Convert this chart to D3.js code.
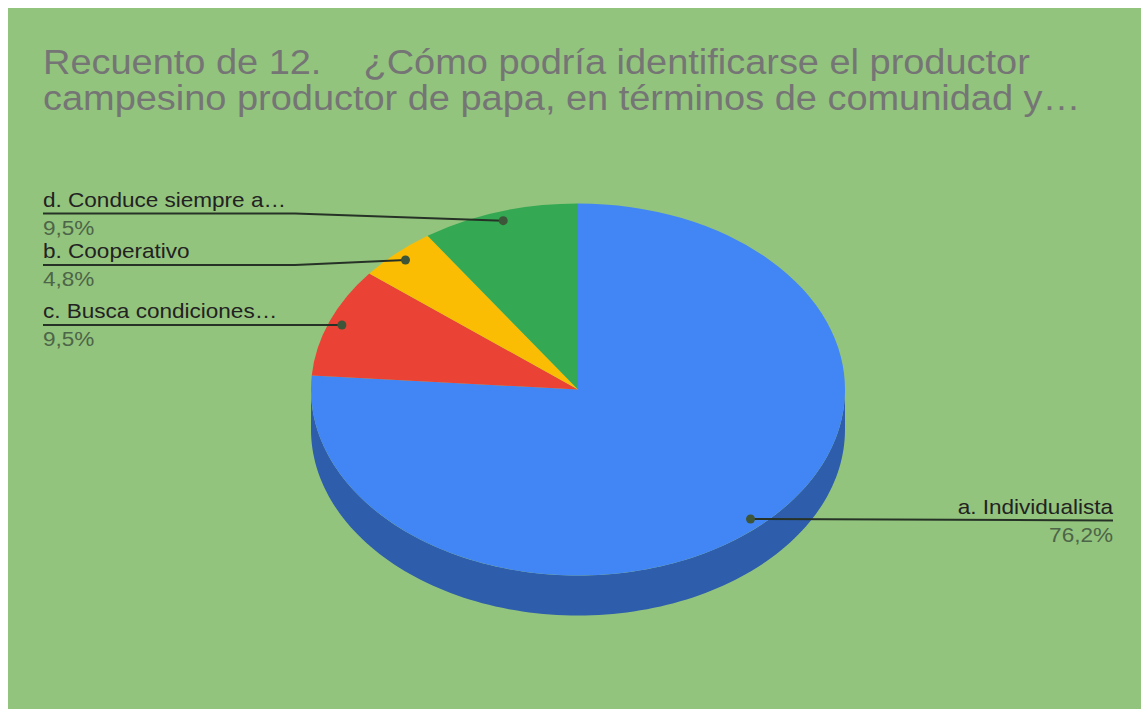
<!DOCTYPE html>
<html>
<head>
<meta charset="utf-8">
<script src="https://cdn.jsdelivr.net/npm/d3@7"></script>
<style>
  html, body { margin: 0; padding: 0; background: #fff; }
  svg { display: block; }
  text { font-family: "Liberation Sans", Arial, sans-serif; white-space: pre; }
</style>
</head>
<body>
<div id="chart"></div>
<script>
// data, in the order the sheet draws the slices (clockwise from 12 o'clock)
var categories = ["a. Individualista", "c. Busca condiciones…", "b. Cooperativo", "d. Conduce siempre a…"];
var counts = [16, 2, 1, 2];
var colors = ["#4285f4", "#ea4335", "#fbbc04", "#34a853"];
var titleLines = [
  "Recuento de 12.    ¿Cómo podría identificarse el productor",
  "campesino productor de papa, en términos de comunidad y…"
];

var width = 1141,
    height = 709,
    cx = 578,
    cy = 389.5,
    rx = 267,
    ry = 186,
    depth = 40,
    stretch = 1.1; // text in the screenshot is a bit wider than Liberation Sans

var svg = d3.select("#chart").append("svg")
  .attr("width", width)
  .attr("height", height);

// green plot background (white strip on top/left like the screenshot)
svg.append("rect")
  .attr("x", 8).attr("y", 8)
  .attr("width", width - 8).attr("height", height - 8)
  .attr("fill", "#93c47d");

function place(x, y) {
  return "translate(" + x + "," + y + ") scale(" + stretch + ",1)";
}

// title
var title = svg.append("text")
  .attr("transform", place(43, 73.5))
  .attr("fill", "#757575")
  .style("font-size", "34.5px");
title.selectAll("tspan")
  .data(titleLines)
  .enter().append("tspan")
  .attr("x", 0)
  .attr("dy", function(d, i) { return i == 0 ? 0 : 36.5; })
  .text(function(d) { return d; });

var total = d3.sum(counts);
var pct = function(v) { return d3.format(".1f")(v / total * 100).replace(".", ",") + "%"; };

var pie = d3.pie().sort(null).value(function(d) { return d; });
var slices = pie(counts);

// point on the top ellipse for a pie angle (0 = 12 o'clock, clockwise)
function ept(a, f) {
  return [cx + rx * f * Math.sin(a), cy - ry * f * Math.cos(a)];
}

var pieG = svg.append("g");

// 3D side walls: only the front half (angles between pi/2 and 3pi/2) shows
var line = d3.line();
slices.forEach(function(s, i) {
  var a0 = Math.max(s.startAngle, Math.PI / 2),
      a1 = Math.min(s.endAngle, 3 * Math.PI / 2);
  if (a1 <= a0) return;
  var n = 120;
  var top = d3.range(n + 1).map(function(k) { return ept(a0 + (a1 - a0) * k / n, 1); });
  var bottom = top.slice().reverse().map(function(p) { return [p[0], p[1] + depth]; });
  pieG.append("path")
    .attr("d", line(top.concat(bottom)) + "Z")
    .attr("fill", d3.color(colors[i]).darker(1));
});

// top face: circular arcs squashed into an ellipse
var arc = d3.arc().innerRadius(0).outerRadius(rx);
pieG.append("g")
  .attr("transform", "translate(" + cx + "," + cy + ") scale(1," + (ry / rx) + ")")
  .selectAll("path")
  .data(slices)
  .enter().append("path")
  .attr("d", arc)
  .attr("fill", function(d, i) { return colors[i]; });

// labels with leader lines
// side and line height of each label (layout only)
var labelSide = ["right", "left", "left", "left"];
var labelLineY = [520.5, 325, 265, 213.5];
var leftX = 43, rightX = 1113, bendX = 295;

var labG = svg.append("g");
slices.forEach(function(s, i) {
  var mid = (s.startAngle + s.endAngle) / 2;
  var dot = ept(mid, 0.95);
  var ly = labelLineY[i];
  var pts;
  if (labelSide[i] == "left") {
    pts = [[leftX, ly], [Math.min(bendX, dot[0]), ly], dot];
  } else {
    pts = [dot, [rightX, ly]];
  }
  labG.append("path")
    .attr("d", line(pts))
    .attr("fill", "none")
    .attr("stroke", "#263226")
    .attr("stroke-width", 2);
  labG.append("circle")
    .attr("cx", dot[0]).attr("cy", dot[1]).attr("r", 4.5)
    .attr("fill", "#3d5538");

  var tx = labelSide[i] == "left" ? leftX : rightX;
  var anchor = labelSide[i] == "left" ? "start" : "end";
  labG.append("text")
    .attr("transform", place(tx, ly - 7))
    .attr("text-anchor", anchor)
    .attr("fill", "#222")
    .style("font-size", "20.5px")
    .text(categories[i]);
  labG.append("text")
    .attr("transform", place(tx, ly + 21))
    .attr("text-anchor", anchor)
    .attr("fill", "#4d6548")
    .style("font-size", "20.5px")
    .text(pct(counts[i]));
});
</script>
</body>
</html>
